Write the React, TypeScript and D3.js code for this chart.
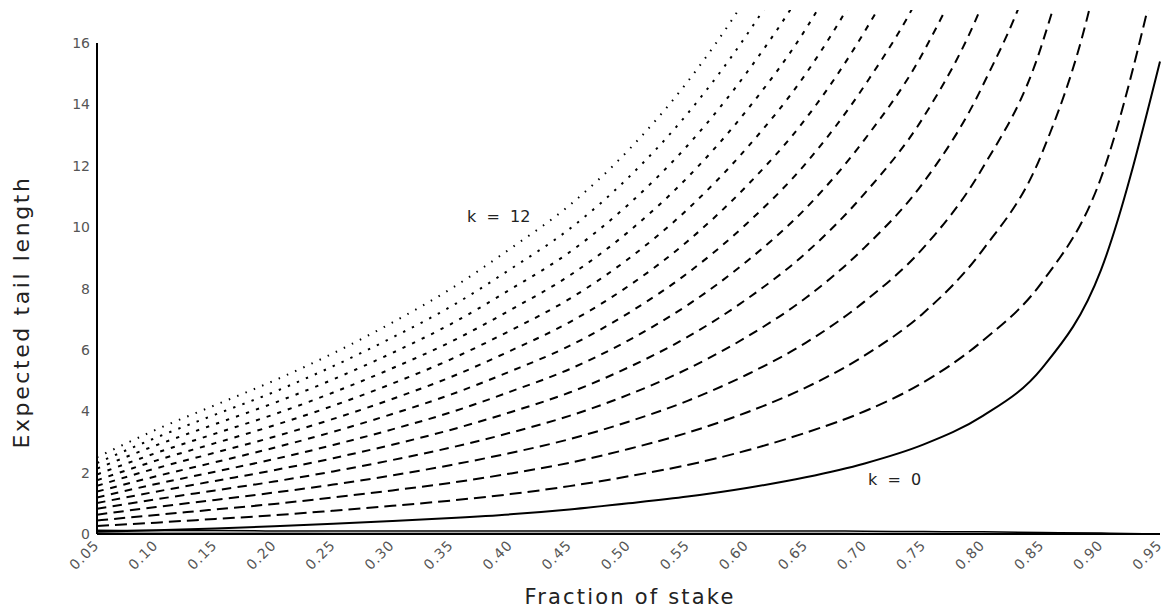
import React from "react";
import * as d3 from "d3";

const fractions = [0.05,0.10,0.15,0.20,0.25,0.30,0.35,0.40,0.45,0.50,0.55,0.60,0.65,0.70,0.75,0.80,0.85,0.90,0.95];

const k0 = [0.07,0.12,0.18,0.25,0.33,0.42,0.52,0.64,0.80,1.00,1.22,1.50,1.85,2.30,2.92,3.85,5.40,8.60,15.4];
const c1 = [0.26,0.37,0.49,0.61,0.76,0.92,1.09,1.30,1.56,1.88,2.25,2.72,3.30,4.00,4.95,6.30,8.20,11.6,18.8];
const c2 = [0.44,0.62,0.80,0.98,1.19,1.42,1.67,1.97,2.32,2.77,3.30,3.96,4.77,5.82,7.21,9.26,12.4,18.8,31.4];
const c3 = [0.63,0.88,1.11,1.35,1.61,1.91,2.25,2.64,3.09,3.66,4.34,5.19,6.23,7.58,9.34,11.94,15.95,24.0,39.4];
const c4 = [0.82,1.13,1.42,1.71,2.04,2.41,2.82,3.30,3.85,4.54,5.38,6.42,7.69,9.34,11.47,14.62,19.5,29.2,47.4];
const c5 = [1.01,1.38,1.73,2.08,2.47,2.91,3.40,3.97,4.61,5.43,6.42,7.65,9.15,11.1,13.6,17.3,23.05,34.4,55.4];
const c6 = [1.19,1.63,2.03,2.44,2.90,3.41,3.97,4.64,5.37,6.31,7.46,8.88,10.61,12.86,15.73,19.98,26.6,39.6,63.4];
const c7 = [1.38,1.88,2.34,2.81,3.33,3.91,4.55,5.30,6.13,7.20,8.50,10.11,12.07,14.62,17.86,22.66,30.15,44.8,71.4];
const c8 = [1.57,2.14,2.65,3.17,3.75,4.40,5.12,5.97,6.90,8.08,9.54,11.34,13.53,16.38,19.99,25.34,33.7,50.0,79.4];
const c9 = [1.75,2.39,2.96,3.54,4.18,4.90,5.70,6.63,7.66,8.97,10.58,12.57,14.99,18.14,22.12,28.0,37.3,55.2,87.4];
const c10 = [1.94,2.64,3.27,3.90,4.61,5.40,6.27,7.30,8.42,9.85,11.62,13.8,16.45,19.9,24.25,30.7,40.8,60.4,95.4];
const c11 = [2.13,2.89,3.58,4.27,5.04,5.90,6.85,7.97,9.18,10.74,12.66,15.03,17.91,21.66,26.4,33.4,44.4,65.6,103.4];
const c12 = [2.31,3.14,3.89,4.63,5.47,6.40,7.42,8.63,9.94,11.62,13.70,16.26,19.37,23.4,28.5,36.1,47.9,70.8,111.4];
const c13 = [2.50,3.40,4.20,5.00,5.89,6.89,8.00,9.30,10.71,12.51,14.74,17.49,20.83,25.2,30.6,38.7,51.4,76.0,119.4];

const lowA = [0.12,0.11,0.11,0.10,0.10,0.10,0.10,0.10,0.10,0.10,0.10,0.10,0.10,0.09,0.08,0.07,0.05,0.03,0.0];
const lowB = [0.06,0.05,0.05,0.05,0.04,0.04,0.04,0.04,0.04,0.04,0.04,0.04,0.04,0.03,0.03,0.02,0.02,0.01,0.0];

const dashedCurves = [c1,c2,c3,c4,c5,c6,c7,c8,c9,c10,c11,c12,c13];
const xTicks = [0.05,0.10,0.15,0.20,0.25,0.30,0.35,0.40,0.45,0.50,0.55,0.60,0.65,0.70,0.75,0.80,0.85,0.90,0.95];
const yTicks = [0,2,4,6,8,10,12,14,16];

const W = 1169, H = 612;
const FONT = "'DejaVu Sans', sans-serif";

export default function App() {
  const x = d3.scaleLinear().domain([0.05, 0.95]).range([97, 1160]);
  const y = d3.scaleLinear().domain([0, 16]).range([534, 43]);
  const line = d3.line<number>().x((_, i) => x(fractions[i])).y((d) => y(d)).curve(d3.curveMonotoneX);
  const n = dashedCurves.length;

  const dashFor = (j: number) => {
    const t = j / (n - 1);
    const dash = 12 - t * 10.5;
    const gap = 6 + t * 1.5;
    return `${dash.toFixed(1)} ${gap.toFixed(1)}`;
  };

  return (
    <svg width={W} height={H} style={{ position: "absolute", left: 0, top: 0, background: "#fff" }}>
      <defs>
        <clipPath id="plot">
          <rect x={97} y={10} width={1070} height={526} />
        </clipPath>
      </defs>
      <g clipPath="url(#plot)">
        <path d={line(lowB) || ""} fill="none" stroke="#999" strokeWidth={1.2} />
        <path d={line(lowA) || ""} fill="none" stroke="#000" strokeWidth={1.5} />
        <path d={line(k0) || ""} fill="none" stroke="#000" strokeWidth={2} />
        {dashedCurves.map((c, j) => (
          <path key={j} d={line(c) || ""} fill="none" stroke="#000" strokeWidth={2}
            strokeDasharray={dashFor(j)} strokeLinecap="butt" />
        ))}
      </g>
      <line x1={x(0.05)} x2={x(0.05)} y1={y(0)} y2={y(16)} stroke="#000" strokeWidth={2} />
      <line x1={x(0.05)} x2={x(0.95)} y1={y(0)} y2={y(0)} stroke="#000" strokeWidth={2} />
      {yTicks.map((t) => (
        <text key={t} x={90} y={y(t) + 5} textAnchor="end" fontFamily={FONT} fontSize={14}
          fill="#555">{t}</text>
      ))}
      {xTicks.map((t) => (
        <text key={t} transform={`translate(${x(t) + 3},${y(0) + 12}) rotate(-45)`} textAnchor="end"
          fontFamily={FONT} fontSize={14} fill="#555" letterSpacing={1}>{t.toFixed(2)}</text>
      ))}
      <text x={630} y={604} textAnchor="middle" fontFamily={FONT} fontSize={21} fill="#222"
        letterSpacing={2.2}>Fraction of stake</text>
      <text transform={`translate(29,${312}) rotate(-90)`} textAnchor="middle" fontFamily={FONT}
        fontSize={22} fill="#222" letterSpacing={2.6}>Expected tail length</text>
      <text x={467} y={222} fontFamily={FONT} fontSize={16} fill="#222" style={{ whiteSpace: "pre" }}>k  =  12</text>
      <text x={868} y={485} fontFamily={FONT} fontSize={16} fill="#222" style={{ whiteSpace: "pre" }}>k  =  0</text>
    </svg>
  );
}
